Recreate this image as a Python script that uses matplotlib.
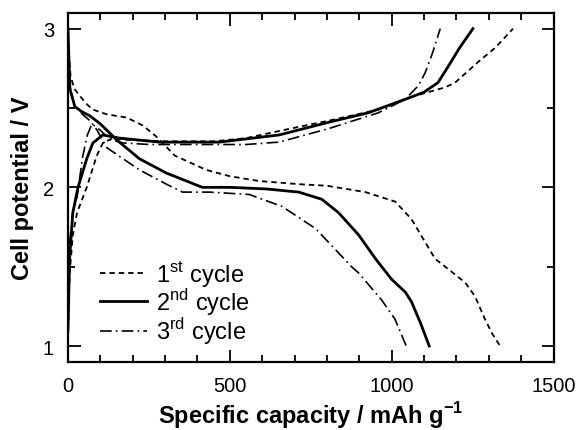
import matplotlib
matplotlib.use("Agg")
import matplotlib.pyplot as plt
from matplotlib.ticker import MultipleLocator

plt.rcParams['font.family'] = ['Liberation Sans', 'DejaVu Sans']
plt.rcParams['mathtext.fontset'] = 'custom'
plt.rcParams['mathtext.rm'] = 'Liberation Sans'
plt.rcParams['mathtext.bf'] = 'Liberation Sans:bold'

# 1st cycle
cap1_dis = [0, 3, 8, 20, 37, 60, 77, 120, 181, 231, 273, 330, 427, 500, 590, 713, 800,
            919, 1011, 1061, 1134, 1190, 1227, 1257, 1288, 1310, 1335]
v1_dis = [2.97, 2.85, 2.70, 2.62, 2.575, 2.52, 2.49, 2.46, 2.44, 2.39, 2.32, 2.20, 2.11,
          2.07, 2.04, 2.02, 2.01, 1.97, 1.91, 1.80, 1.55, 1.46, 1.40, 1.315, 1.17, 1.08, 1.0]
cap1_chg = [0, 5, 15, 28, 58, 89, 108, 138, 180, 300, 450, 550, 652, 805, 959, 1061,
            1165, 1196, 1267, 1320, 1375]
v1_chg = [1.1, 1.45, 1.7, 1.84, 2.0, 2.2, 2.28, 2.31, 2.30, 2.29, 2.29, 2.31, 2.355,
          2.42, 2.49, 2.57, 2.63, 2.66, 2.79, 2.88, 3.0]

# 2nd cycle
cap2_dis = [0, 3, 6, 21, 40, 68, 100, 120, 150, 221, 304, 366, 415, 500, 612, 713, 784,
            836, 898, 950, 1000, 1042, 1061, 1090, 1116]
v2_dis = [3.0, 2.8, 2.62, 2.51, 2.48, 2.45, 2.40, 2.36, 2.30, 2.18, 2.09, 2.04, 2.0, 2.0,
          1.99, 1.97, 1.925, 1.84, 1.70, 1.55, 1.42, 1.34, 1.28, 1.14, 1.0]
cap2_chg = [0, 5, 15, 31, 58, 77, 108, 160, 283, 467, 652, 805, 928, 1042, 1100, 1143,
            1174, 1210, 1251]
v2_chg = [1.1, 1.55, 1.84, 2.0, 2.18, 2.28, 2.33, 2.31, 2.285, 2.285, 2.33, 2.41, 2.47,
          2.555, 2.60, 2.66, 2.76, 2.88, 3.0]

# 3rd cycle
cap3_dis = [0, 3, 8, 20, 45, 68, 90, 120, 163, 221, 304, 354, 437, 560, 661, 765, 876,
            898, 969, 1010, 1045]
v3_dis = [3.0, 2.8, 2.62, 2.52, 2.46, 2.42, 2.36, 2.25, 2.19, 2.11, 2.02, 1.97, 1.97,
          1.955, 1.88, 1.74, 1.50, 1.46, 1.29, 1.17, 1.0]
cap3_chg = [0, 3, 6, 15, 28, 46, 60, 74, 100, 130, 170, 250, 400, 550, 652, 805, 959,
            1042, 1082, 1103, 1125, 1150]
v3_chg = [1.1, 1.4, 1.67, 1.85, 1.94, 2.2, 2.33, 2.40, 2.36, 2.30, 2.28, 2.27, 2.27,
          2.27, 2.285, 2.37, 2.47, 2.555, 2.64, 2.72, 2.84, 3.0]

labels = ['1$^{\\mathrm{st}}$ cycle', '2$^{\\mathrm{nd}}$ cycle', '3$^{\\mathrm{rd}}$ cycle']

fig = plt.figure(figsize=(5.76, 4.31), dpi=100)
ax = fig.add_axes([0.118, 0.158, 0.843, 0.81])

dash1 = (0, (3, 2.2))
dash3 = (0, (7, 2.5, 1, 2.5))
ax.plot(cap1_dis, v1_dis, color='k', lw=1.3, linestyle=dash1, label=labels[0])
ax.plot(cap1_chg, v1_chg, color='k', lw=1.3, linestyle=dash1)
ax.plot(cap2_dis, v2_dis, color='k', lw=2.0, label=labels[1])
ax.plot(cap2_chg, v2_chg, color='k', lw=2.0)
ax.plot(cap3_dis, v3_dis, color='k', lw=1.2, linestyle=dash3, label=labels[2])
ax.plot(cap3_chg, v3_chg, color='k', lw=1.2, linestyle=dash3)

ax.set_xlim(0, 1500)
ax.set_ylim(0.9, 3.1)
ax.xaxis.set_major_locator(MultipleLocator(500))
ax.xaxis.set_minor_locator(MultipleLocator(100))
ax.yaxis.set_major_locator(MultipleLocator(1))
ax.yaxis.set_minor_locator(MultipleLocator(0.5))
ax.tick_params(which='both', direction='in', top=True, right=True, width=1.3,
               labelsize=14.5, pad=10)
ax.tick_params(which='major', length=9)
ax.tick_params(which='minor', length=5)
for s in ax.spines.values():
    s.set_linewidth(1.6)

ax.set_xlabel('Specific capacity / mAh g$^{\\mathbf{-1}}$', fontsize=17, fontweight='bold',
              labelpad=3)
ax.set_ylabel('Cell potential / V', fontsize=17, fontweight='bold', labelpad=6)

ax.legend(loc='center left', bbox_to_anchor=(0.066, 0.172), frameon=False, fontsize=17,
          handlelength=2.0, handletextpad=0.38, labelspacing=-0.08, borderpad=0,
          borderaxespad=0)

fig.savefig('out.png', dpi=100)
